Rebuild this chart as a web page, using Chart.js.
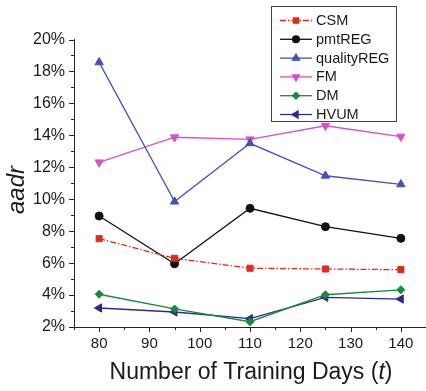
<!DOCTYPE html>
<html>
<head>
<meta charset="utf-8">
<script src="https://cdn.jsdelivr.net/npm/chart.js@4/dist/chart.umd.min.js"></script>
<style>
  html, body { margin: 0; padding: 0; background: #fff; }
  #wrap { width: 426px; height: 391px; }
</style>
</head>
<body>
<div id="wrap"><canvas id="c" width="426" height="391"></canvas></div>
<script>
// Training-window lengths (days)
const trainingDays = [80, 95, 110, 125, 140];

// aadr (%) per method
const csm        = [7.53, 6.30, 5.68, 5.63, 5.59];
const pmtReg     = [8.95, 5.96, 9.43, 8.28, 7.55];
const qualityReg = [18.57, 9.85, 13.50, 11.47, 10.93];
const fm         = [12.31, 13.88, 13.75, 14.60, 13.92];
const dm         = [4.05, 3.13, 2.33, 4.02, 4.33];
const hvum       = [3.19, 2.94, 2.52, 3.86, 3.75];

const yTicks = [2, 4, 6, 8, 10, 12, 14, 16, 18, 20];
const xTicks = [80, 90, 100, 110, 120, 130, 140];

const FONT = '"Liberation Sans", Arial, sans-serif';

const markerRadius = { rect: 4.3, circle: 4, triangle: 4.8, rectRot: 4 };

function pairs(vals) {
  return trainingDays.map((d, i) => ({ x: d, y: vals[i] }));
}

function series(label, vals, color, style, rotation, dash) {
  return {
    label,
    data: pairs(vals),
    borderColor: color,
    backgroundColor: color,
    pointBackgroundColor: color,
    pointBorderColor: color,
    pointStyle: style,
    rotation: rotation,
    pointRadius: markerRadius[style],
    pointBorderWidth: 1,
    pointHoverRadius: markerRadius[style],
    borderWidth: 1.3,
    borderDash: dash || [],
    tension: 0,
    fill: false
  };
}

// Axis tick marks (major + minor) drawn outward from the axis lines
const axisTicks = {
  id: 'axisTicks',
  afterDraw(chart) {
    const { ctx, scales: { x, y }, chartArea: a } = chart;
    ctx.save();
    ctx.strokeStyle = '#222';
    ctx.lineWidth = 1;
    ctx.beginPath();
    for (let v = 2; v <= 20; v += 1) {
      const py = Math.round(y.getPixelForValue(v)) + 0.5;
      const len = v % 2 === 0 ? 5 : 3;
      ctx.moveTo(a.left, py);
      ctx.lineTo(a.left - len, py);
    }
    for (let v = 75; v <= 145; v += 5) {
      const px = Math.round(x.getPixelForValue(v)) + 0.5;
      const len = v % 10 === 0 ? 5 : 3;
      ctx.moveTo(px, a.bottom);
      ctx.lineTo(px, a.bottom + len);
    }
    ctx.stroke();
    ctx.restore();
  }
};

// Boxed legend inside the plot, top right
const boxLegend = {
  id: 'boxLegend',
  afterDraw(chart) {
    const ctx = chart.ctx;
    const bx = 271.5, by = 6.5, bw = 125, bh = 115;
    ctx.save();
    ctx.fillStyle = '#fff';
    ctx.fillRect(bx, by, bw, bh);
    ctx.strokeStyle = '#444';
    ctx.lineWidth = 1;
    ctx.strokeRect(bx, by, bw, bh);
    chart.data.datasets.forEach((ds, i) => {
      const cy = 20.5 + i * 18.8;
      ctx.strokeStyle = ds.borderColor;
      ctx.lineWidth = 1.3;
      ctx.setLineDash(ds.borderDash);
      ctx.beginPath();
      ctx.moveTo(280, cy);
      ctx.lineTo(312, cy);
      ctx.stroke();
      ctx.setLineDash([]);
      ctx.fillStyle = ds.borderColor;
      Chart.helpers.drawPoint(ctx, {
        pointStyle: ds.pointStyle,
        rotation: ds.rotation,
        radius: ds.pointRadius * 0.85,
        borderWidth: 1
      }, 296, cy);
      ctx.fillStyle = '#1a1a1a';
      ctx.font = '14.5px ' + FONT;
      ctx.textBaseline = 'middle';
      ctx.textAlign = 'left';
      ctx.fillText(ds.label, 316, cy + 0.5);
    });
    ctx.restore();
  }
};

// Axis titles
const axisTitles = {
  id: 'axisTitles',
  afterDraw(chart) {
    const ctx = chart.ctx;
    ctx.save();
    ctx.fillStyle = '#1a1a1a';
    ctx.textBaseline = 'middle';
    const head = 'Number of Training Days (';
    ctx.font = '23px ' + FONT;
    const w = ctx.measureText(head).width;
    ctx.font = 'italic 23px ' + FONT;
    const tW = ctx.measureText('t').width;
    ctx.font = '23px ' + FONT;
    const total = w + tW + ctx.measureText(')').width;
    const startX = 251 - total / 2;
    ctx.textAlign = 'left';
    ctx.fillText(head, startX, 373);
    ctx.font = 'italic 23px ' + FONT;
    ctx.fillText('t', startX + w, 373);
    ctx.font = '23px ' + FONT;
    ctx.fillText(')', startX + w + tW, 373);

    ctx.translate(17, 190);
    ctx.rotate(-Math.PI / 2);
    ctx.textAlign = 'center';
    ctx.font = 'italic 24px ' + FONT;
    ctx.fillText('aadr', 0, 0);
    ctx.restore();
  }
};

new Chart(document.getElementById('c'), {
  type: 'line',
  data: {
    datasets: [
      series('CSM', csm, '#e3281e', 'rect', 0, [6, 2, 1.5, 2]),
      series('pmtREG', pmtReg, '#111111', 'circle', 0),
      series('qualityREG', qualityReg, '#4650b8', 'triangle', 0),
      series('FM', fm, '#d452c4', 'triangle', 180),
      series('DM', dm, '#178a3e', 'rectRot', 0),
      series('HVUM', hvum, '#2c2c88', 'triangle', -90)
    ]
  },
  options: {
    responsive: false,
    animation: false,
    devicePixelRatio: 1,
    layout: { autoPadding: false, padding: { top: 39.5, right: 0, left: 0, bottom: 0 } },
    plugins: {
      legend: { display: false },
      tooltip: { enabled: false }
    },
    scales: {
      x: {
        type: 'linear',
        min: 75,
        max: 145,
        afterFit(s) { s.height = 64; },
        afterBuildTicks(s) { s.ticks = xTicks.map(v => ({ value: v })); },
        ticks: {
          color: '#1a1a1a',
          font: { family: FONT, size: 15 },
          padding: 8,
          maxRotation: 0,
          autoSkip: false
        },
        grid: { display: false, drawTicks: false },
        border: { display: true, color: '#222', width: 1 }
      },
      y: {
        min: 2,
        max: 20,
        afterFit(s) { s.width = 74; },
        afterBuildTicks(s) { s.ticks = yTicks.map(v => ({ value: v })); },
        ticks: {
          color: '#1a1a1a',
          font: { family: FONT, size: 16 },
          padding: 9,
          autoSkip: false,
          callback: v => v + '%'
        },
        grid: { display: false, drawTicks: false },
        border: { display: true, color: '#222', width: 1 }
      }
    }
  },
  plugins: [axisTicks, boxLegend, axisTitles]
});
</script>
</body>
</html>
